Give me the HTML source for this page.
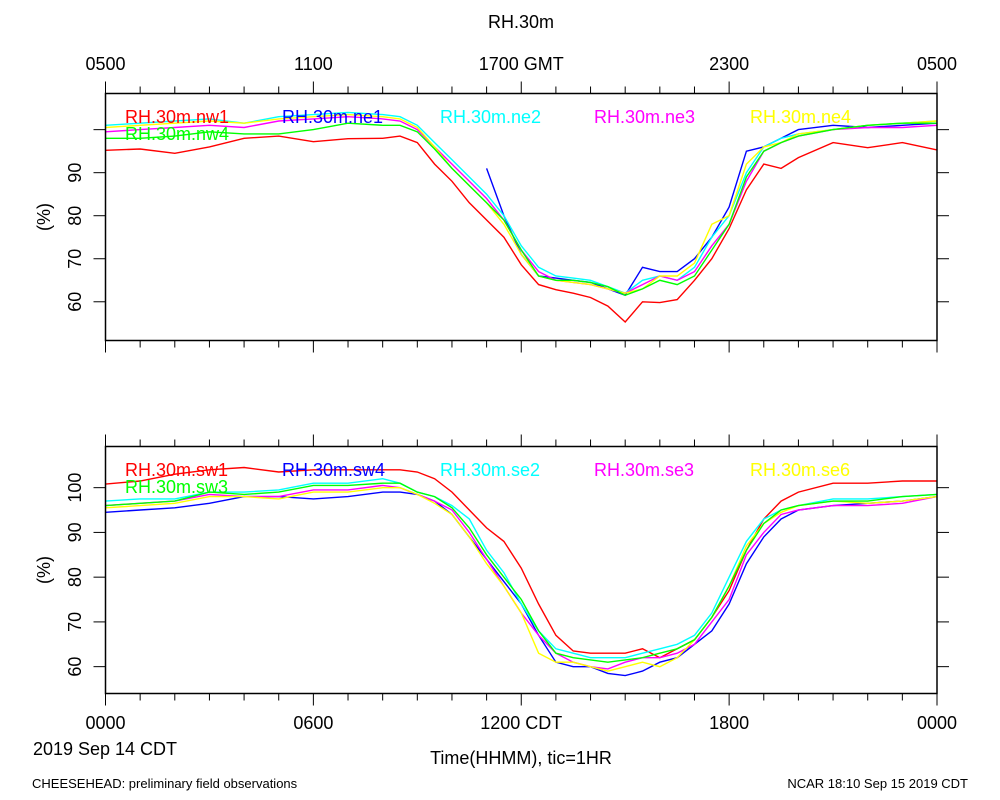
<!DOCTYPE html>
<html><head><meta charset="utf-8"><style>body{margin:0;background:#fff}svg{display:block}text{font-family:"Liberation Sans",sans-serif}</style></head>
<body>
<svg id="c" width="1000" height="800"></svg>
<script>
const hours=[0,1,2,3,4,5,6,7,8,8.5,9,9.5,10,10.5,11,11.5,12,12.5,13,13.5,14,14.5,15,15.5,16,16.5,17,17.5,18,18.5,19,19.5,20,21,22,23,24];
const topNames=["RH.30m.nw1","RH.30m.ne1","RH.30m.ne2","RH.30m.ne3","RH.30m.ne4","RH.30m.nw4"];
const nw1=[95.2,95.5,94.5,96,98,98.5,97.2,97.9,98,98.5,97,92,88,83,79,75,68.6,64,62.8,62,61,59,55.3,60,59.8,60.5,65,70,77,86,92,91,93.5,97,95.8,97,95.3];
const ne1=[null,null,null,null,null,null,null,null,null,null,null,null,null,null,91,80,71,66,65.5,65,64.5,63,61.5,68,67,67,70,75,82,95,96,98,100,101,100.5,101,101.5];
const ne2=[101,101.5,102,102.5,101.5,103,103.5,104,103.5,103,101,97,93,89,85,80,73,68,66,65.5,65,63.5,62,65,66,65,68,75,80,90,96,98,99,100,101,101.5,102];
const ne3=[99.5,100,100.5,101,100.5,102,102.5,103,102.5,102,100,96,92,88,84,79,72,67,65,64.5,64,63,62,64,66,65,67,73,78,88,95,97,98.5,100,100.5,100.5,101];
const ne4=[100.5,101,101.5,102,101.5,102.5,103,103.5,103,102.5,100.5,96,91,87,83,78,71,66,65,64.5,64,63,62,63,66,66,69,78,80,92,96,97,99,100,101,101.5,102];
const nw4=[98,98,98.5,99.5,99,99,100,101.5,101,101,99.5,95.5,91,87,83,79,72,66,65,65,64.5,63.5,61.5,63,65,64,66,72,78,89,95,97,98.5,100,101,101.5,101.5];
const botNames=["RH.30m.sw1","RH.30m.sw4","RH.30m.se2","RH.30m.se3","RH.30m.se6","RH.30m.sw3"];
const sw1=[100.8,101.5,103,104,104.5,103.5,104,104,104,104,103.5,102,99,95,91,88,82,74,67,63.5,63,63,63,64,62,64,66,71,77,86,93,97,99,101,101,101.5,101.5];
const sw4=[94.5,95,95.5,96.5,98,98,97.5,98,99,99,98.5,97,94,89,84,79,74,67,61,60,60,58.5,58,59,61,62,65,68,74,83,89,93,95,96,96.5,97,98];
const se2=[97,97.5,97.5,99,99,99.5,101,101,102,101,99,98,96,93,86,81,74,68,64,63,62,62,62,63,64,65,67,72,80,88,93,95,96,97.5,97.5,98,98.5];
const se3=[96,96.5,97,98.5,98,98,99.5,99.5,100.5,100,98.5,97,95,90,84,78,72,67,63,61,60,59.5,61,62,62,63,65,70,75,85,90,94,95,96,96,96.5,98];
const se6=[95.5,96,96.5,98,98,97.5,99,99,100,100,98.5,96.5,94,89,83,78,72,63,61,61,60,59,60,61,60,62,66,71,78,87,92,94.5,96,97,96.5,97,98];
const sw3=[96,96.5,97,99,98.5,99,100.5,100.5,101,101,99,98,95.5,91,85,80,75,68,63,62,61.5,61,61.5,62,63,64,66,71,78,86,92,95,96,97,97,98,98.5];
const yTicksTop=[60,70,80,90,100];
const yLabelsTop=["60","70","80","90",""];
const yTicksBot=[60,70,80,90,100];
const yLabelsBot=["60","70","80","90","100"];
const topLabels=["0500","1100","1700 GMT","2300","0500"];
const botLabels=["0000","0600","1200 CDT","1800","0000"];
const colors=["#ff0000","#0000ff","#00ffff","#ff00ff","#ffff00","#00ff00"];

const svg=document.getElementById('c');const NS="http://www.w3.org/2000/svg";
function mk(t,a,p){const e=document.createElementNS(NS,t);for(const k in a)e.setAttribute(k,a[k]);(p||svg).appendChild(e);return e;}
const X0=105.5,X1=937;
const xs=h=>X0+(X1-X0)*h/24;
function panel(name,top,bot,ymin,ymax,yt,ylab,series,names,legY,topAxisLabels,botAxisLabels){
  const g=mk('g',{});
  const ys=v=>bot-(v-ymin)/(ymax-ymin)*(bot-top);
  series.forEach((s,i)=>{let d="",pen=false;s.forEach((v,j)=>{if(v==null){pen=false;return;}d+=(pen?"L":"M")+xs(hours[j]).toFixed(1)+","+ys(v).toFixed(1);pen=true;});
    const p=mk('path',{d:d,fill:'none',stroke:colors[i],'stroke-width':1.4},g);});
  const f=mk('rect',{x:X0,y:top,width:X1-X0,height:bot-top,fill:'none',stroke:'#000','stroke-width':1.5},g);
  for(let h=0;h<=24;h++){const L=h%6==0?12:7;const x=xs(h);
    mk('line',{x1:x,x2:x,y1:top,y2:top-L,stroke:'#000','stroke-width':1},g);
    mk('line',{x1:x,x2:x,y1:bot,y2:bot+L,stroke:'#000','stroke-width':1},g);}
  yt.forEach((v,i)=>{const y=ys(v);mk('line',{x1:X0,x2:X0-12,y1:y,y2:y,stroke:'#000'},g);mk('line',{x1:X1,x2:X1+12,y1:y,y2:y,stroke:'#000'},g);
    if(ylab[i]){const t=mk('text',{x:0,y:0,'font-size':18,'text-anchor':'middle',transform:`translate(81,${y}) rotate(-90)`},g);t.textContent=ylab[i];}});
  const yl=mk('text',{'font-size':18,'text-anchor':'middle',transform:`translate(50,${(top+bot)/2}) rotate(-90)`},g);yl.textContent="(%)";
  const lx=[125,282,440,594,750];
  names.forEach((n,i)=>{const x=i<5?lx[i]:125,y=i<5?legY:legY+17;const t=mk('text',{x:x,y:y,'font-size':18,fill:colors[i]},g);t.textContent=n;});
  if(topAxisLabels)topAxisLabels.forEach((l,i)=>{const t=mk('text',{x:xs(i*6),y:70,'font-size':18,'text-anchor':'middle'},g);t.textContent=l;});
  if(botAxisLabels)botAxisLabels.forEach((l,i)=>{const t=mk('text',{x:xs(i*6),y:729,'font-size':18,'text-anchor':'middle'},g);t.textContent=l;});
}
panel('top-panel',93.5,340.5,51,108.4,yTicksTop,yLabelsTop,[nw1,ne1,ne2,ne3,ne4,nw4],topNames,123,topLabels,null);
panel('bottom-panel',446.5,693.5,54,109.2,yTicksBot,yLabelsBot,[sw1,sw4,se2,se3,se6,sw3],botNames,476,null,botLabels);
function txt(s,x,y,sz,anc,name){const t=mk('text',{x:x,y:y,'font-size':sz,'text-anchor':anc});t.textContent=s;}
txt("RH.30m",521,28,18,'middle','chart-title');
txt("2019 Sep 14 CDT",105,755,18,'middle','date-label');
txt("Time(HHMM), tic=1HR",521,764,18,'middle','x-axis-title');
txt("CHEESEHEAD: preliminary field observations",32,788,13,'start','footer-left');
txt("NCAR 18:10 Sep 15 2019 CDT",968,788,13,'end','footer-right');
</script>
</body></html>
